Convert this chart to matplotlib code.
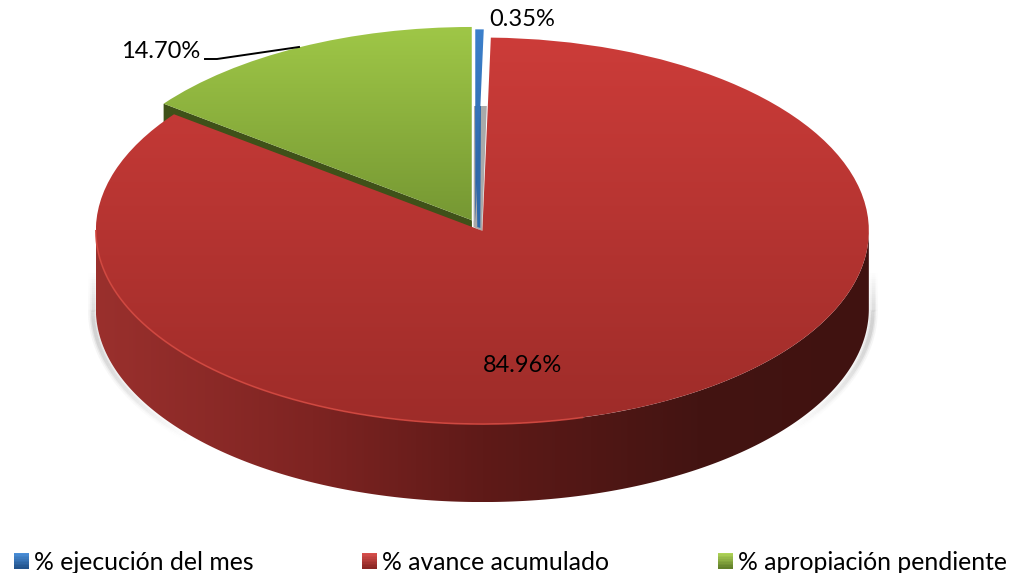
import numpy as np
import matplotlib
matplotlib.use("Agg")
import matplotlib.pyplot as plt
from matplotlib.collections import LineCollection
from matplotlib.colors import LinearSegmentedColormap as LSC
from matplotlib.legend_handler import HandlerBase
from matplotlib.patches import Polygon, Patch, Rectangle

categories = ["% ejecución del mes", "% avance acumulado", "% apropiación pendiente"]
values = [0.35, 84.96, 14.70]
value_labels = ["0.35%", "84.96%", "14.70%"]
explode = [5.8, 11.8, 11.8]

legend_grads = [["#4A8FD8", "#23538C"], ["#D8504C", "#8A2624"], ["#AFD458", "#62802A"]]
face_grads = [["#3C80CC", "#2A5F9E"], ["#CC3C39", "#9E2C29"], ["#9FC747", "#769833"]]
side_colors = ["#9A302D", "#7E2422", "#5F1A18", "#431412", "#401210"]

W, H = 1011, 573
plt.rcParams['font.family'] = ['Lato', 'DejaVu Sans']
fig = plt.figure(figsize=(W/100, H/100), dpi=100)
ax = fig.add_axes([0, 0, 1, 1])

def Y(py):
    return 2*(H-py)

wedges, _ = ax.pie(values, explode=explode, startangle=90, counterclock=False,
                   radius=386.5, center=(477.2, Y(225.5)))
depth = 2*78

# the narrow slice sits a touch to the left of the common centre
wedges[0].set_center((wedges[0].center[0]-2, wedges[0].center[1]))

grad = np.linspace(0, 1, 256).reshape(-1, 1)
# top faces
for w, g, z in zip(wedges, face_grads, [4.5, 3, 4]):
    w.set_facecolor('none')
    w.set_edgecolor('none')
    cm = LSC.from_list('f', g)
    box = w.get_patch_transform().transform_path(w.get_path()).get_extents()
    im = ax.imshow(grad, cmap=cm, aspect='auto', origin='upper', zorder=z,
                   extent=(box.x0, box.x1, box.y0, box.y1))
    im.set_clip_path(w)

# extruded rim of the large slice
red = wedges[1]
cx, cy = red.center
t = np.radians(np.linspace(180, 360, 300))
top = np.c_[cx+red.r*np.cos(t), cy+red.r*np.sin(t)]
bot = top[::-1]-[0, depth]
side = Polygon(np.r_[top, bot], closed=True, fc='none', ec='none', zorder=2)
ax.add_patch(side)
im = ax.imshow(np.linspace(0, 1, 512).reshape(1, -1),
               cmap=LSC.from_list('s', list(zip([0, .28, .5, .78, 1], side_colors))),
               aspect='auto', zorder=2,
               extent=(cx-red.r, cx+red.r, cy-red.r-depth, cy+red.r))
im.set_clip_path(side)

# soft shadow at both flanks of the rim, fading at its ends
for t0, t1, dx in [(180, 222, -3), (360, 322, 4)]:
    tt = np.radians(np.linspace(t0, t1, 80))
    sx = cx+dx+red.r*np.cos(tt)
    sy = cy+red.r*np.sin(tt)-depth-4
    sx = np.r_[np.full(20, sx[0]), sx]
    sy = np.r_[np.linspace(sy[0]+80, sy[0], 20), sy]
    pts = np.c_[sx, sy]
    segs = np.stack([pts[:-1], pts[1:]], axis=1)
    fade = np.minimum(np.linspace(0, 4, len(segs)), 1)*np.minimum(np.linspace(1.6, 0, len(segs)), 1)
    for lw, al in [(7, .08), (4.5, .12), (2.5, .18)]:
        cols = np.c_[np.full((len(segs), 3), .5), al*fade]
        ax.add_collection(LineCollection(segs, colors=cols, linewidths=lw, zorder=1, capstyle='butt'))

# rim highlight
t3 = np.radians(np.linspace(180, 285, 200))
ax.plot(cx+red.r*np.cos(t3), cy+red.r*np.sin(t3), color='#D2473F', lw=1.2, alpha=.9, zorder=3.2)

# dark cut face of the green slice
gr = wedges[2]
gx, gy = gr.center
a = np.radians(gr.theta2)
corner = (gx+gr.r*np.cos(a), gy+gr.r*np.sin(a))
ax.add_patch(Polygon([(gx, gy), corner, (corner[0], corner[1]-depth), (gx, gy-depth)],
                     closed=True, fc='#3F5119', ec='none', zorder=2.5))

# narrow slice: shadow behind it and its cut face
ax.add_patch(Polygon([(474, Y(106)), (486.8, Y(106)), (482, Y(231)), (473.5, Y(227))],
                     closed=True, fc='#A9A9A9', ec='none', zorder=2.8))
ax.add_patch(Polygon([(475.2, Y(106)), (481, Y(106)), (480.3, Y(228)), (477.3, Y(227))],
                     closed=True, fc='#2E69AB', ec='none', zorder=4.4))
ax.plot([gx, gx], [gy, gy+gr.r], color='white', lw=1, zorder=4.3)

ax.set_aspect('auto')
ax.set_xlim(0, W)
ax.set_ylim(0, 2*H)
ax.axis('off')

# labels
ax.text(522, Y(20), value_labels[0], ha='center', va='center', fontsize=17, color='black', zorder=6)
ax.text(522, Y(365), value_labels[1], ha='center', va='center', fontsize=17, color='black', zorder=6)
ax.text(160.5, Y(51), value_labels[2], ha='center', va='center', fontsize=17, color='black', zorder=6)
ax.plot([205, 217, 299], [Y(59), Y(59), Y(47)], color='black', lw=1.4, zorder=6)


class GradientSquare(HandlerBase):
    def __init__(self, colors):
        super().__init__()
        self.cmap = LSC.from_list('l', colors)

    def create_artists(self, legend, orig, xd, yd, width, height, fontsize, trans):
        n = 10
        return [Rectangle((-xd, -yd+height*(n-1-i)/n), width, height/n+.3,
                          fc=self.cmap(i/(n-1)), ec='none', transform=trans) for i in range(n)]


handles = [Patch(label=c) for c in categories]
ax.legend(handles, categories, loc='lower left', bbox_to_anchor=(13/W, -2/H), bbox_transform=fig.transFigure,
          ncol=3, frameon=False, fontsize=17.8, handlelength=0.6, handleheight=0.6, handletextpad=0.2,
          columnspacing=4.4, borderaxespad=0, borderpad=0.05,
          handler_map={h: GradientSquare(g) for h, g in zip(handles, legend_grads)})

fig.savefig('out.png', dpi=100)
